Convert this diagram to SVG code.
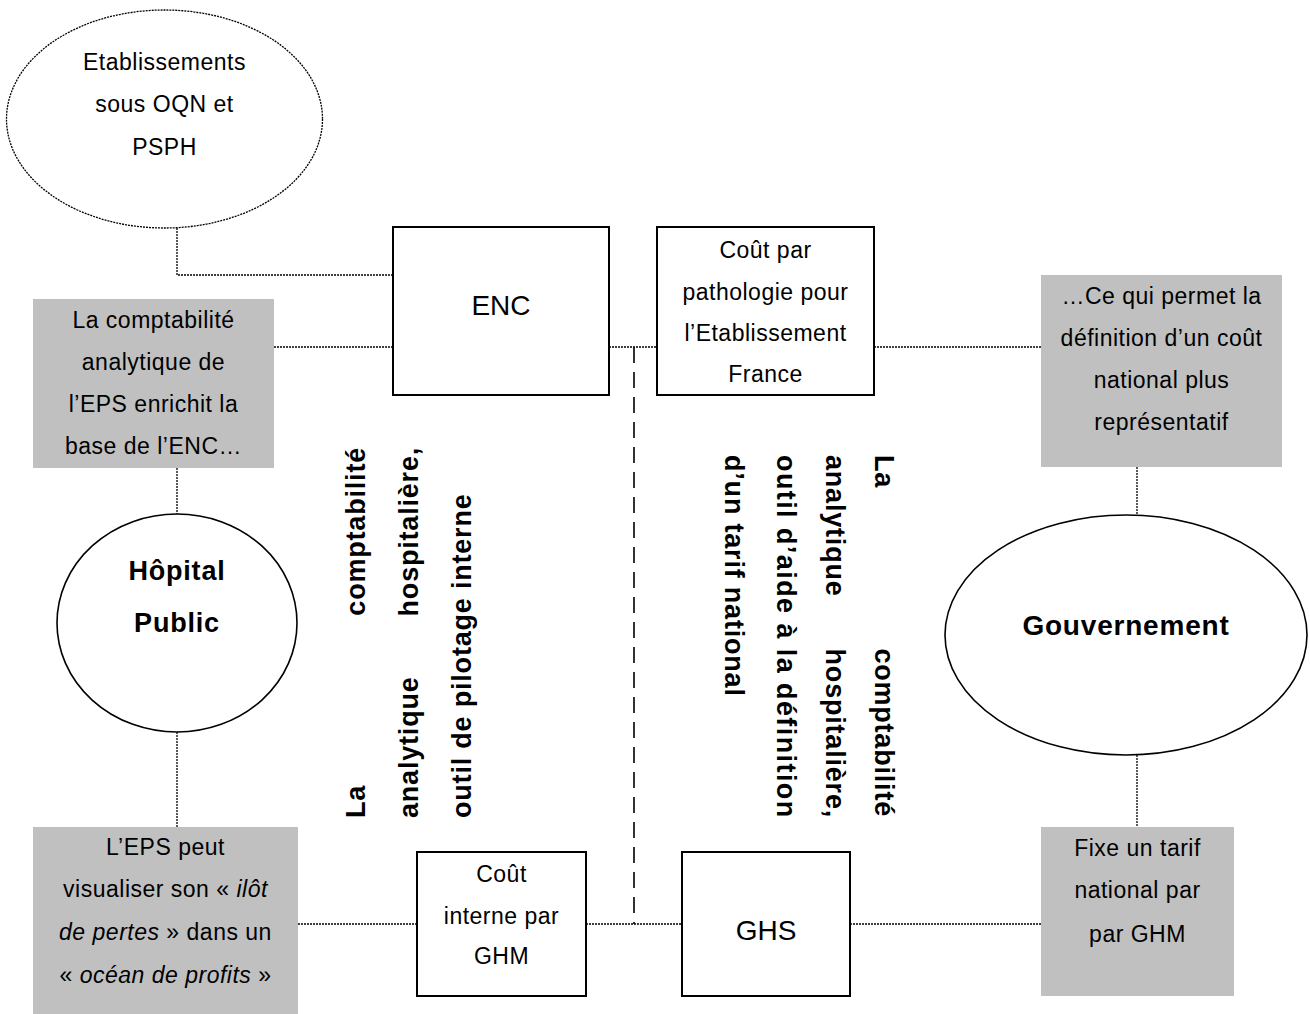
<svg xmlns="http://www.w3.org/2000/svg" width="1310" height="1014" viewBox="0 0 1310 1014">
<style>
  text { font-family: "Liberation Sans", Arial, sans-serif; fill: #000; }
  .t { font-size: 23px; letter-spacing: 0.5px; text-anchor: middle; }
  .big { font-size: 28px; text-anchor: middle; }
  .b { font-size: 27px; font-weight: bold; letter-spacing: 0.8px; }
  .bc { font-size: 27px; font-weight: bold; letter-spacing: 0.8px; text-anchor: middle; }
  .box { fill: #fff; stroke: #000; stroke-width: 2; }
  .grey { fill: #c0c0c0; stroke: none; }
  .ell { fill: #fff; stroke: #000; stroke-width: 1.6; }
  .dotted { fill: none; stroke: #000; stroke-width: 1.3; stroke-dasharray: 2 1; }
  .dashed { fill: none; stroke: #000; stroke-width: 1.6; stroke-dasharray: 16 9; }
  .it { font-style: italic; }
</style>
<rect width="1310" height="1014" fill="#fff"/>

<g id="connectors">
  <polyline class="dotted" points="177,228 177,275 393,275"/>
  <line class="dotted" x1="274" y1="347" x2="393" y2="347"/>
  <line class="dotted" x1="609" y1="347" x2="657" y2="347"/>
  <line class="dotted" x1="874" y1="347" x2="1041" y2="347"/>
  <line class="dotted" x1="177" y1="468" x2="177" y2="514"/>
  <line class="dotted" x1="177" y1="732" x2="177" y2="827"/>
  <line class="dotted" x1="1137" y1="467" x2="1137" y2="515"/>
  <line class="dotted" x1="1137" y1="755" x2="1137" y2="827"/>
  <line class="dotted" x1="298" y1="924" x2="417" y2="924"/>
  <line class="dotted" x1="586" y1="924" x2="682" y2="924"/>
  <line class="dotted" x1="850" y1="924" x2="1041" y2="924"/>
  <line class="dashed" x1="634" y1="347" x2="634" y2="924"/>
</g>

<g id="etablissements">
  <ellipse cx="164.5" cy="119" rx="158" ry="109" fill="#fff" stroke="#000" stroke-width="1.3" stroke-dasharray="2 1"/>
  <text class="t" x="164.5" y="70">Etablissements</text>
  <text class="t" x="164.5" y="112">sous OQN et</text>
  <text class="t" x="164.5" y="155">PSPH</text>
</g>

<g id="enc">
  <rect class="box" x="393" y="227" width="216" height="168"/>
  <text class="big" x="501" y="315">ENC</text>
</g>

<g id="cout-pathologie">
  <rect class="box" x="657" y="227" width="217" height="168"/>
  <text class="t" x="765.5" y="258">Coût par</text>
  <text class="t" x="765.5" y="300">pathologie pour</text>
  <text class="t" x="765.5" y="341">l’Etablissement</text>
  <text class="t" x="765.5" y="382">France</text>
</g>

<g id="comptabilite-eps">
  <rect class="grey" x="33" y="299" width="241" height="169"/>
  <text class="t" x="153.5" y="328">La comptabilité</text>
  <text class="t" x="153.5" y="370">analytique de</text>
  <text class="t" x="153.5" y="412">l’EPS enrichit la</text>
  <text class="t" x="153.5" y="454">base de l’ENC…</text>
</g>

<g id="cout-national">
  <rect class="grey" x="1041" y="275" width="241" height="192"/>
  <text class="t" x="1161.5" y="304">…Ce qui permet la</text>
  <text class="t" x="1161.5" y="346">définition d’un coût</text>
  <text class="t" x="1161.5" y="388">national plus</text>
  <text class="t" x="1161.5" y="430">représentatif</text>
</g>

<g id="hopital">
  <ellipse class="ell" cx="177" cy="623" rx="120" ry="109"/>
  <text class="bc" x="177" y="580">Hôpital</text>
  <text class="bc" x="177" y="632">Public</text>
</g>

<g id="gouvernement">
  <ellipse class="ell" cx="1126" cy="635" rx="181" ry="120"/>
  <text class="bc" x="1126" y="635" style="font-size:28px">Gouvernement</text>
</g>

<g id="texte-gauche">
  <text class="b" transform="translate(365,818) rotate(-90)" x="0" y="0">La</text>
  <text class="b" transform="translate(365,818) rotate(-90)" x="371" y="0" text-anchor="end">comptabilité</text>
  <text class="b" transform="translate(418,818) rotate(-90)" x="0" y="0">analytique</text>
  <text class="b" transform="translate(418,818) rotate(-90)" x="371" y="0" text-anchor="end">hospitalière,</text>
  <text class="b" transform="translate(471,818) rotate(-90)" x="0" y="0">outil de pilotage interne</text>
</g>

<g id="texte-droite">
  <text class="b" transform="translate(875,455) rotate(90)" x="0" y="0">La</text>
  <text class="b" transform="translate(875,455) rotate(90)" x="362" y="0" text-anchor="end">comptabilité</text>
  <text class="b" transform="translate(826,455) rotate(90)" x="0" y="0">analytique</text>
  <text class="b" transform="translate(826,455) rotate(90)" x="363" y="0" text-anchor="end">hospitalière,</text>
  <text class="b" transform="translate(777,455) rotate(90)" x="0" y="0" textLength="363" lengthAdjust="spacing">outil d’aide à la définition</text>
  <text class="b" transform="translate(725,455) rotate(90)" x="0" y="0">d’un tarif national</text>
</g>

<g id="ilot-pertes">
  <rect class="grey" x="33" y="827" width="265" height="187"/>
  <text class="t" x="165.5" y="855">L’EPS peut</text>
  <text class="t" x="165.5" y="897">visualiser  son « <tspan class="it">ilôt</tspan></text>
  <text class="t" x="165.5" y="940"><tspan class="it">de pertes</tspan> » dans un</text>
  <text class="t" x="165.5" y="983">« <tspan class="it">océan de profits</tspan> »</text>
</g>

<g id="cout-interne">
  <rect class="box" x="417" y="852" width="169" height="144"/>
  <text class="t" x="501.5" y="882">Coût</text>
  <text class="t" x="501.5" y="924">interne par</text>
  <text class="t" x="501.5" y="964">GHM</text>
</g>

<g id="ghs">
  <rect class="box" x="682" y="852" width="168" height="144"/>
  <text class="big" x="766" y="940">GHS</text>
</g>

<g id="tarif-national">
  <rect class="grey" x="1041" y="827" width="193" height="169"/>
  <text class="t" x="1137.5" y="856">Fixe un tarif</text>
  <text class="t" x="1137.5" y="898">national par</text>
  <text class="t" x="1137.5" y="942">par GHM</text>
</g>
</svg>
